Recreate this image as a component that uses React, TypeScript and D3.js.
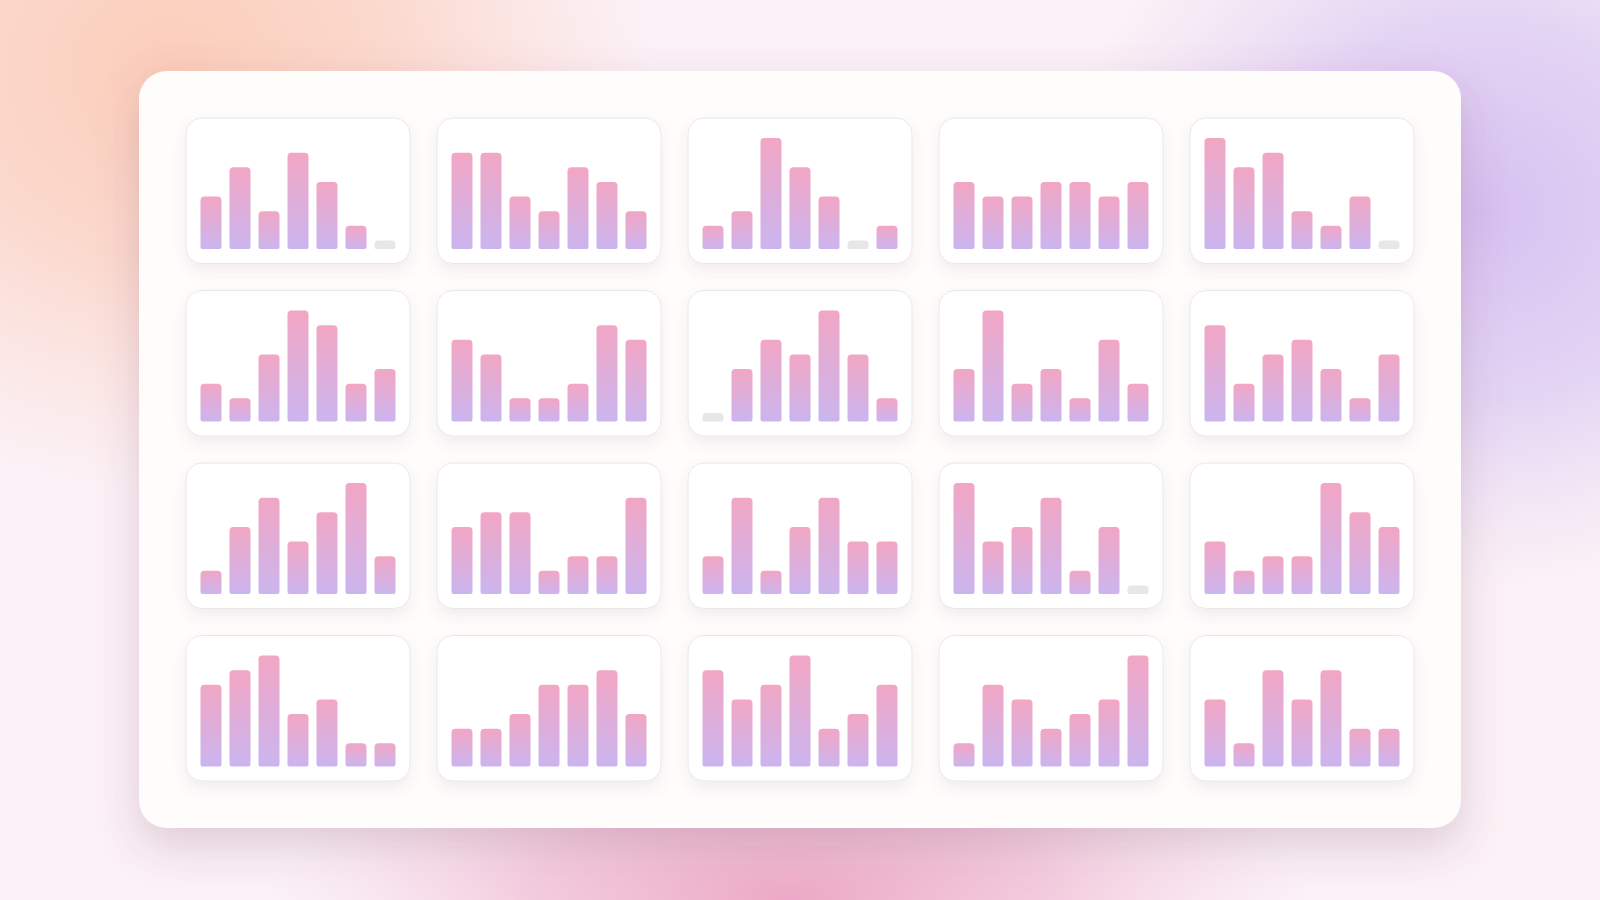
import React from "react";
import * as d3 from "d3";

// ---- data: 20 mini bar charts (4 rows x 5 columns), 7 bars each, values 0..7
const days = ["d1", "d2", "d3", "d4", "d5", "d6", "d7"];
const row1 = [
  [3, 5, 2, 6, 4, 1, 0],
  [6, 6, 3, 2, 5, 4, 2],
  [1, 2, 7, 5, 3, 0, 1],
  [4, 3, 3, 4, 4, 3, 4],
  [7, 5, 6, 2, 1, 3, 0],
];
const row2 = [
  [2, 1, 4, 7, 6, 2, 3],
  [5, 4, 1, 1, 2, 6, 5],
  [0, 3, 5, 4, 7, 4, 1],
  [3, 7, 2, 3, 1, 5, 2],
  [6, 2, 4, 5, 3, 1, 4],
];
const row3 = [
  [1, 4, 6, 3, 5, 7, 2],
  [4, 5, 5, 1, 2, 2, 6],
  [2, 6, 1, 4, 6, 3, 3],
  [7, 3, 4, 6, 1, 4, 0],
  [3, 1, 2, 2, 7, 5, 4],
];
const row4 = [
  [5, 6, 7, 3, 4, 1, 1],
  [2, 2, 3, 5, 5, 6, 3],
  [6, 4, 5, 7, 2, 3, 5],
  [1, 5, 4, 2, 3, 4, 7],
  [4, 1, 6, 4, 6, 2, 2],
];
const rows = [row1, row2, row3, row4];
const maxValue = 7;

const W = 1600;
const H = 900;
const panel = { x: 139, y: 71, w: 1322, h: 757, r: 28 };
const pad = 46.5;
const gap = 26;
const cols = 5;
const nRows = 4;
const cardW = (panel.w - 2 * pad - gap * (cols - 1)) / cols;
const cardH = (panel.h - 2 * pad - gap * (nRows - 1)) / nRows;
const inner = 15;

function barPath(x: number, y: number, w: number, h: number, rt: number, rb: number) {
  rt = Math.min(rt, h / 2, w / 2);
  rb = Math.min(rb, h / 2, w / 2);
  return `M${x},${y + rt}
    Q${x},${y} ${x + rt},${y}
    L${x + w - rt},${y}
    Q${x + w},${y} ${x + w},${y + rt}
    L${x + w},${y + h - rb}
    Q${x + w},${y + h} ${x + w - rb},${y + h}
    L${x + rb},${y + h}
    Q${x},${y + h} ${x},${y + h - rb} Z`;
}

export default function App() {
  const contentW = cardW - 2 * inner;
  const xBand = d3
    .scaleBand<string>()
    .domain(days)
    .range([0, contentW])
    .paddingInner(8 / 29)
    .paddingOuter(0);
  const hScale = d3.scaleLinear().domain([0, maxValue]).range([8.5, 111]);

  return (
    <svg
      width={W}
      height={H}
      viewBox={`0 0 ${W} ${H}`}
      style={{ position: "fixed", left: 0, top: 0, display: "block" }}
    >
      <defs>
        <radialGradient id="peach" cx="0.5" cy="0.5" r="0.5">
          <stop offset="0" stopColor="#fbcdb9" stopOpacity="1" />
          <stop offset="0.45" stopColor="#fbd3c3" stopOpacity="0.8" />
          <stop offset="1" stopColor="#fbd8cc" stopOpacity="0" />
        </radialGradient>
        <radialGradient id="violet" cx="0.5" cy="0.5" r="0.5">
          <stop offset="0" stopColor="#d6c0f1" stopOpacity="1" />
          <stop offset="0.5" stopColor="#dccaf3" stopOpacity="0.75" />
          <stop offset="1" stopColor="#e6d8f5" stopOpacity="0" />
        </radialGradient>
        <radialGradient id="rose" cx="0.5" cy="0.5" r="0.5">
          <stop offset="0" stopColor="#eca8c6" stopOpacity="1" />
          <stop offset="0.5" stopColor="#f0bcd4" stopOpacity="0.7" />
          <stop offset="1" stopColor="#f5d5e3" stopOpacity="0" />
        </radialGradient>
        <linearGradient id="barGrad" x1="0" y1="0" x2="0" y2="1">
          <stop offset="0" stopColor="#f2a6c4" />
          <stop offset="1" stopColor="#cbb5ef" />
        </linearGradient>
        <filter id="panelShadow" x="-10%" y="-10%" width="120%" height="130%">
          <feDropShadow dx="0" dy="18" stdDeviation="22" floodColor="#7a3f63" floodOpacity="0.22" />
        </filter>
        <filter id="cardShadow" x="-10%" y="-10%" width="120%" height="140%">
          <feDropShadow dx="0" dy="7" stdDeviation="7" floodColor="#6a4a60" floodOpacity="0.09" />
        </filter>
      </defs>

      <rect x={0} y={0} width={W} height={H} fill="#fbf1f6" />
      <ellipse cx={170} cy={70} rx={480} ry={420} fill="url(#peach)" />
      <ellipse cx={1480} cy={210} rx={420} ry={380} fill="url(#violet)" />
      <ellipse cx={790} cy={900} rx={520} ry={200} fill="url(#rose)" />

      <rect
        x={panel.x}
        y={panel.y}
        width={panel.w}
        height={panel.h}
        rx={panel.r}
        fill="#fffcfc"
        filter="url(#panelShadow)"
      />

      {rows.map((row, ri) =>
        row.map((values, ci) => {
          const cx = panel.x + pad + ci * (cardW + gap);
          const cy = panel.y + pad + ri * (cardH + gap);
          const baseY = cy + cardH - inner;
          return (
            <g key={`${ri}-${ci}`}>
              <rect
                x={cx + 0.5}
                y={cy + 0.5}
                width={cardW - 1}
                height={cardH - 1}
                rx={16}
                fill="#ffffff"
                stroke="#ebe6ea"
                strokeWidth={1}
                filter="url(#cardShadow)"
              />
              {values.map((v, i) => {
                const bx = cx + inner + (xBand(days[i]) ?? 0);
                const bh = hScale(v);
                const bw = xBand.bandwidth();
                return (
                  <path
                    key={i}
                    d={barPath(bx, baseY - bh, bw, bh, 4, 2)}
                    fill={v === 0 ? "#e8e6e8" : "url(#barGrad)"}
                  />
                );
              })}
            </g>
          );
        })
      )}
    </svg>
  );
}
